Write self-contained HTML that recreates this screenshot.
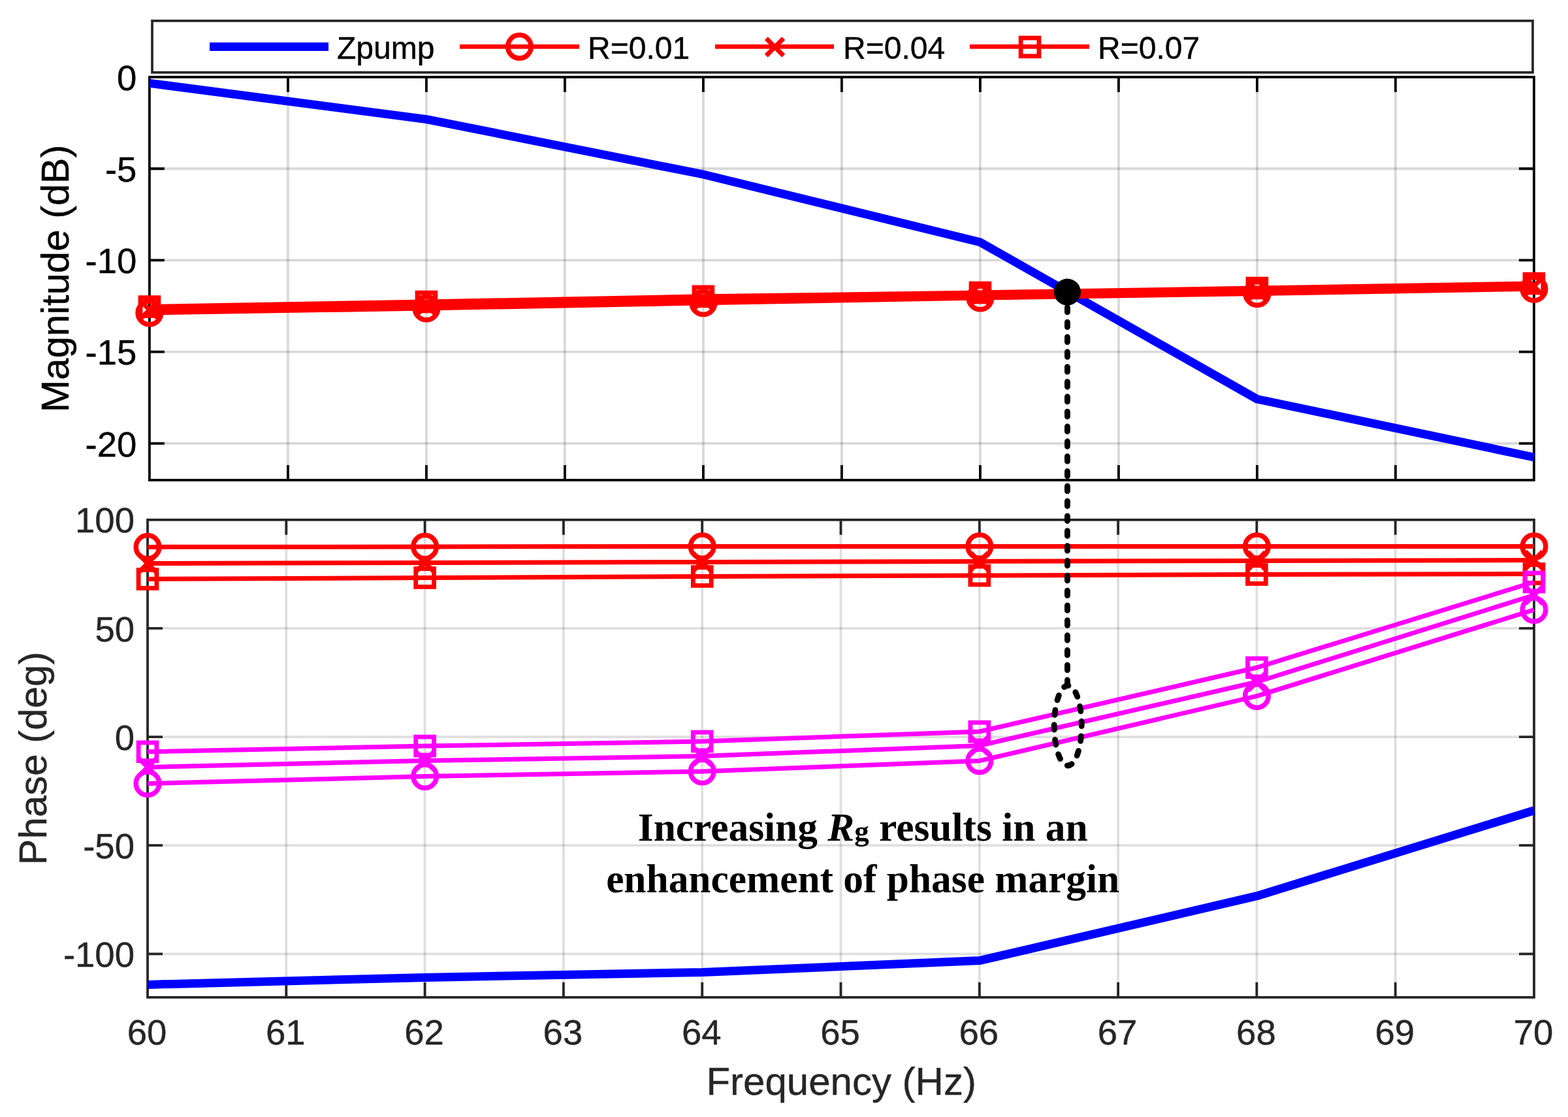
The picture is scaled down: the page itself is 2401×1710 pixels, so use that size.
<!DOCTYPE html>
<html><head><meta charset="utf-8"><title>Bode plot</title>
<style>html,body{margin:0;padding:0;background:#fff;}svg{display:block;}</style>
</head><body>
<svg width="2401" height="1710" viewBox="0 0 2401 1710">
<rect x="0" y="0" width="2401" height="1710" fill="#ffffff"/>
<line x1="440.9" y1="118" x2="440.9" y2="735" stroke="rgba(0,0,0,0.15)" stroke-width="3.8"/>
<line x1="652.9" y1="118" x2="652.9" y2="735" stroke="rgba(0,0,0,0.15)" stroke-width="3.8"/>
<line x1="864.9" y1="118" x2="864.9" y2="735" stroke="rgba(0,0,0,0.15)" stroke-width="3.8"/>
<line x1="1076.9" y1="118" x2="1076.9" y2="735" stroke="rgba(0,0,0,0.15)" stroke-width="3.8"/>
<line x1="1288.9" y1="118" x2="1288.9" y2="735" stroke="rgba(0,0,0,0.15)" stroke-width="3.8"/>
<line x1="1500.9" y1="118" x2="1500.9" y2="735" stroke="rgba(0,0,0,0.15)" stroke-width="3.8"/>
<line x1="1712.9" y1="118" x2="1712.9" y2="735" stroke="rgba(0,0,0,0.15)" stroke-width="3.8"/>
<line x1="1924.9" y1="118" x2="1924.9" y2="735" stroke="rgba(0,0,0,0.15)" stroke-width="3.8"/>
<line x1="2136.9" y1="118" x2="2136.9" y2="735" stroke="rgba(0,0,0,0.15)" stroke-width="3.8"/>
<line x1="228.9" y1="258.23" x2="2348.9" y2="258.23" stroke="rgba(0,0,0,0.15)" stroke-width="3.8"/>
<line x1="228.9" y1="398.45" x2="2348.9" y2="398.45" stroke="rgba(0,0,0,0.15)" stroke-width="3.8"/>
<line x1="228.9" y1="538.68" x2="2348.9" y2="538.68" stroke="rgba(0,0,0,0.15)" stroke-width="3.8"/>
<line x1="228.9" y1="678.91" x2="2348.9" y2="678.91" stroke="rgba(0,0,0,0.15)" stroke-width="3.8"/>
<path d="M440.9 735V712M440.9 118V141M652.9 735V712M652.9 118V141M864.9 735V712M864.9 118V141M1076.9 735V712M1076.9 118V141M1288.9 735V712M1288.9 118V141M1500.9 735V712M1500.9 118V141M1712.9 735V712M1712.9 118V141M1924.9 735V712M1924.9 118V141M2136.9 735V712M2136.9 118V141M228.9 258.23H251.9M2348.9 258.23H2325.9M228.9 398.45H251.9M2348.9 398.45H2325.9M228.9 538.68H251.9M2348.9 538.68H2325.9M228.9 678.91H251.9M2348.9 678.91H2325.9" stroke="#000000" stroke-width="3.8" fill="none"/>
<rect x="228.9" y="118" width="2120" height="617" fill="none" stroke="#000000" stroke-width="3.8"/>
<polyline points="228.9,127.4 652.9,182.6 1076.9,267 1500.9,370.8 1924.9,611 2348.9,700" fill="none" stroke="#0000ff" stroke-width="13" stroke-linejoin="round" stroke-linecap="butt"/>
<polyline points="228.9,479 652.9,472 1076.9,463.8 1500.9,456 1924.9,449.5 2348.9,442.3" fill="none" stroke="#ff0000" stroke-width="7" stroke-linejoin="round" stroke-linecap="butt"/>
<circle cx="228.9" cy="479" r="17.8" fill="none" stroke="#ff0000" stroke-width="7.5"/>
<circle cx="652.9" cy="472" r="17.8" fill="none" stroke="#ff0000" stroke-width="7.5"/>
<circle cx="1076.9" cy="463.8" r="17.8" fill="none" stroke="#ff0000" stroke-width="7.5"/>
<circle cx="1500.9" cy="456" r="17.8" fill="none" stroke="#ff0000" stroke-width="7.5"/>
<circle cx="1924.9" cy="449.5" r="17.8" fill="none" stroke="#ff0000" stroke-width="7.5"/>
<circle cx="2348.9" cy="442.3" r="17.8" fill="none" stroke="#ff0000" stroke-width="7.5"/>
<polyline points="228.9,474.25 652.9,467 1076.9,458.8 1500.9,452 1924.9,445.25 2348.9,438.15" fill="none" stroke="#ff0000" stroke-width="7" stroke-linejoin="round" stroke-linecap="butt"/>
<path d="M215.7 461.05L242.1 487.45M215.7 487.45L242.1 461.05" stroke="#ff0000" stroke-width="7" fill="none"/>
<path d="M639.7 453.8L666.1 480.2M639.7 480.2L666.1 453.8" stroke="#ff0000" stroke-width="7" fill="none"/>
<path d="M1063.7 445.6L1090.1 472M1063.7 472L1090.1 445.6" stroke="#ff0000" stroke-width="7" fill="none"/>
<path d="M1487.7 438.8L1514.1 465.2M1487.7 465.2L1514.1 438.8" stroke="#ff0000" stroke-width="7" fill="none"/>
<path d="M1911.7 432.05L1938.1 458.45M1911.7 458.45L1938.1 432.05" stroke="#ff0000" stroke-width="7" fill="none"/>
<path d="M2335.7 424.95L2362.1 451.35M2335.7 451.35L2362.1 424.95" stroke="#ff0000" stroke-width="7" fill="none"/>
<polyline points="228.9,469.5 652.9,462 1076.9,453.8 1500.9,448 1924.9,441 2348.9,434" fill="none" stroke="#ff0000" stroke-width="7" stroke-linejoin="round" stroke-linecap="butt"/>
<rect x="215" y="455.6" width="27.8" height="27.8" fill="none" stroke="#ff0000" stroke-width="6.8"/>
<rect x="639" y="448.1" width="27.8" height="27.8" fill="none" stroke="#ff0000" stroke-width="6.8"/>
<rect x="1063" y="439.9" width="27.8" height="27.8" fill="none" stroke="#ff0000" stroke-width="6.8"/>
<rect x="1487" y="434.1" width="27.8" height="27.8" fill="none" stroke="#ff0000" stroke-width="6.8"/>
<rect x="1911" y="427.1" width="27.8" height="27.8" fill="none" stroke="#ff0000" stroke-width="6.8"/>
<rect x="2335" y="420.1" width="27.8" height="27.8" fill="none" stroke="#ff0000" stroke-width="6.8"/>
<text x="209.4" y="137.6" font-size="54.5" fill="#000000" stroke="#000000" stroke-width="0.4" text-anchor="end" font-family='"Liberation Sans", Arial, Helvetica, sans-serif'>0</text>
<text x="209.4" y="277.83" font-size="54.5" fill="#000000" stroke="#000000" stroke-width="0.4" text-anchor="end" font-family='"Liberation Sans", Arial, Helvetica, sans-serif'>-5</text>
<text x="209.4" y="418.05" font-size="54.5" fill="#000000" stroke="#000000" stroke-width="0.4" text-anchor="end" font-family='"Liberation Sans", Arial, Helvetica, sans-serif'>-10</text>
<text x="209.4" y="558.28" font-size="54.5" fill="#000000" stroke="#000000" stroke-width="0.4" text-anchor="end" font-family='"Liberation Sans", Arial, Helvetica, sans-serif'>-15</text>
<text x="209.4" y="698.51" font-size="54.5" fill="#000000" stroke="#000000" stroke-width="0.4" text-anchor="end" font-family='"Liberation Sans", Arial, Helvetica, sans-serif'>-20</text>
<text transform="translate(105 426.5) rotate(-90)" x="0" y="0" font-size="60" fill="#000000" stroke="#000000" stroke-width="0.4" text-anchor="middle" font-family='"Liberation Sans", Arial, Helvetica, sans-serif'>Magnitude (dB)</text>
<line x1="438.3" y1="795.8" x2="438.3" y2="1526.8" stroke="rgba(38,38,38,0.15)" stroke-width="3.8"/>
<line x1="650.6" y1="795.8" x2="650.6" y2="1526.8" stroke="rgba(38,38,38,0.15)" stroke-width="3.8"/>
<line x1="862.9" y1="795.8" x2="862.9" y2="1526.8" stroke="rgba(38,38,38,0.15)" stroke-width="3.8"/>
<line x1="1075.2" y1="795.8" x2="1075.2" y2="1526.8" stroke="rgba(38,38,38,0.15)" stroke-width="3.8"/>
<line x1="1287.5" y1="795.8" x2="1287.5" y2="1526.8" stroke="rgba(38,38,38,0.15)" stroke-width="3.8"/>
<line x1="1499.8" y1="795.8" x2="1499.8" y2="1526.8" stroke="rgba(38,38,38,0.15)" stroke-width="3.8"/>
<line x1="1712.1" y1="795.8" x2="1712.1" y2="1526.8" stroke="rgba(38,38,38,0.15)" stroke-width="3.8"/>
<line x1="1924.4" y1="795.8" x2="1924.4" y2="1526.8" stroke="rgba(38,38,38,0.15)" stroke-width="3.8"/>
<line x1="2136.7" y1="795.8" x2="2136.7" y2="1526.8" stroke="rgba(38,38,38,0.15)" stroke-width="3.8"/>
<line x1="226" y1="961.94" x2="2349" y2="961.94" stroke="rgba(38,38,38,0.15)" stroke-width="3.8"/>
<line x1="226" y1="1128.07" x2="2349" y2="1128.07" stroke="rgba(38,38,38,0.15)" stroke-width="3.8"/>
<line x1="226" y1="1294.21" x2="2349" y2="1294.21" stroke="rgba(38,38,38,0.15)" stroke-width="3.8"/>
<line x1="226" y1="1460.35" x2="2349" y2="1460.35" stroke="rgba(38,38,38,0.15)" stroke-width="3.8"/>
<path d="M438.3 1526.8V1503.8M438.3 795.8V818.8M650.6 1526.8V1503.8M650.6 795.8V818.8M862.9 1526.8V1503.8M862.9 795.8V818.8M1075.2 1526.8V1503.8M1075.2 795.8V818.8M1287.5 1526.8V1503.8M1287.5 795.8V818.8M1499.8 1526.8V1503.8M1499.8 795.8V818.8M1712.1 1526.8V1503.8M1712.1 795.8V818.8M1924.4 1526.8V1503.8M1924.4 795.8V818.8M2136.7 1526.8V1503.8M2136.7 795.8V818.8M226 961.94H249M2349 961.94H2326M226 1128.07H249M2349 1128.07H2326M226 1294.21H249M2349 1294.21H2326M226 1460.35H249M2349 1460.35H2326" stroke="#262626" stroke-width="3.8" fill="none"/>
<rect x="226" y="795.8" width="2123" height="731" fill="none" stroke="#262626" stroke-width="3.8"/>
<polyline points="226,1507.4 650.6,1496.4 1075.2,1488.4 1499.8,1470.6 1924.4,1371.7 2349,1240.7" fill="none" stroke="#0000ff" stroke-width="13" stroke-linejoin="round" stroke-linecap="butt"/>
<polyline points="226,837.4 650.6,837 1075.2,836.5 1499.8,836.5 1924.4,836.5 2349,836.5" fill="none" stroke="#ff0000" stroke-width="7" stroke-linejoin="round" stroke-linecap="butt"/>
<circle cx="226" cy="837.4" r="17.8" fill="none" stroke="#ff0000" stroke-width="7.5"/>
<circle cx="650.6" cy="837" r="17.8" fill="none" stroke="#ff0000" stroke-width="7.5"/>
<circle cx="1075.2" cy="836.5" r="17.8" fill="none" stroke="#ff0000" stroke-width="7.5"/>
<circle cx="1499.8" cy="836.5" r="17.8" fill="none" stroke="#ff0000" stroke-width="7.5"/>
<circle cx="1924.4" cy="836.5" r="17.8" fill="none" stroke="#ff0000" stroke-width="7.5"/>
<circle cx="2349" cy="836.5" r="17.8" fill="none" stroke="#ff0000" stroke-width="7.5"/>
<polyline points="226,862.5 650.6,861.4 1075.2,860.4 1499.8,859.4 1924.4,858.5 2349,857.5" fill="none" stroke="#ff0000" stroke-width="7" stroke-linejoin="round" stroke-linecap="butt"/>
<path d="M212.8 849.3L239.2 875.7M212.8 875.7L239.2 849.3" stroke="#ff0000" stroke-width="7" fill="none"/>
<path d="M637.4 848.2L663.8 874.6M637.4 874.6L663.8 848.2" stroke="#ff0000" stroke-width="7" fill="none"/>
<path d="M1062 847.2L1088.4 873.6M1062 873.6L1088.4 847.2" stroke="#ff0000" stroke-width="7" fill="none"/>
<path d="M1486.6 846.2L1513 872.6M1486.6 872.6L1513 846.2" stroke="#ff0000" stroke-width="7" fill="none"/>
<path d="M1911.2 845.3L1937.6 871.7M1911.2 871.7L1937.6 845.3" stroke="#ff0000" stroke-width="7" fill="none"/>
<path d="M2335.8 844.3L2362.2 870.7M2335.8 870.7L2362.2 844.3" stroke="#ff0000" stroke-width="7" fill="none"/>
<polyline points="226,886.5 650.6,884.5 1075.2,882.5 1499.8,881 1924.4,879.5 2349,878.5" fill="none" stroke="#ff0000" stroke-width="7" stroke-linejoin="round" stroke-linecap="butt"/>
<rect x="212.1" y="872.6" width="27.8" height="27.8" fill="none" stroke="#ff0000" stroke-width="6.8"/>
<rect x="636.7" y="870.6" width="27.8" height="27.8" fill="none" stroke="#ff0000" stroke-width="6.8"/>
<rect x="1061.3" y="868.6" width="27.8" height="27.8" fill="none" stroke="#ff0000" stroke-width="6.8"/>
<rect x="1485.9" y="867.1" width="27.8" height="27.8" fill="none" stroke="#ff0000" stroke-width="6.8"/>
<rect x="1910.5" y="865.6" width="27.8" height="27.8" fill="none" stroke="#ff0000" stroke-width="6.8"/>
<rect x="2335.1" y="864.6" width="27.8" height="27.8" fill="none" stroke="#ff0000" stroke-width="6.8"/>
<polyline points="226,1199.5 650.6,1188.5 1075.2,1181 1499.8,1164.7 1924.4,1065.6 2349,933.5" fill="none" stroke="#ff00ff" stroke-width="7" stroke-linejoin="round" stroke-linecap="butt"/>
<circle cx="226" cy="1199.5" r="17.8" fill="none" stroke="#ff00ff" stroke-width="7.5"/>
<circle cx="650.6" cy="1188.5" r="17.8" fill="none" stroke="#ff00ff" stroke-width="7.5"/>
<circle cx="1075.2" cy="1181" r="17.8" fill="none" stroke="#ff00ff" stroke-width="7.5"/>
<circle cx="1499.8" cy="1164.7" r="17.8" fill="none" stroke="#ff00ff" stroke-width="7.5"/>
<circle cx="1924.4" cy="1065.6" r="17.8" fill="none" stroke="#ff00ff" stroke-width="7.5"/>
<circle cx="2349" cy="933.5" r="17.8" fill="none" stroke="#ff00ff" stroke-width="7.5"/>
<polyline points="226,1174.5 650.6,1164.5 1075.2,1157.5 1499.8,1141.5 1924.4,1044 2349,911" fill="none" stroke="#ff00ff" stroke-width="7" stroke-linejoin="round" stroke-linecap="butt"/>
<path d="M212.8 1161.3L239.2 1187.7M212.8 1187.7L239.2 1161.3" stroke="#ff00ff" stroke-width="7" fill="none"/>
<path d="M637.4 1151.3L663.8 1177.7M637.4 1177.7L663.8 1151.3" stroke="#ff00ff" stroke-width="7" fill="none"/>
<path d="M1062 1144.3L1088.4 1170.7M1062 1170.7L1088.4 1144.3" stroke="#ff00ff" stroke-width="7" fill="none"/>
<path d="M1486.6 1128.3L1513 1154.7M1486.6 1154.7L1513 1128.3" stroke="#ff00ff" stroke-width="7" fill="none"/>
<path d="M1911.2 1030.8L1937.6 1057.2M1911.2 1057.2L1937.6 1030.8" stroke="#ff00ff" stroke-width="7" fill="none"/>
<path d="M2335.8 897.8L2362.2 924.2M2335.8 924.2L2362.2 897.8" stroke="#ff00ff" stroke-width="7" fill="none"/>
<polyline points="226,1150.8 650.6,1142 1075.2,1135 1499.8,1120 1924.4,1022 2349,891" fill="none" stroke="#ff00ff" stroke-width="7" stroke-linejoin="round" stroke-linecap="butt"/>
<rect x="212.1" y="1136.9" width="27.8" height="27.8" fill="none" stroke="#ff00ff" stroke-width="6.8"/>
<rect x="636.7" y="1128.1" width="27.8" height="27.8" fill="none" stroke="#ff00ff" stroke-width="6.8"/>
<rect x="1061.3" y="1121.1" width="27.8" height="27.8" fill="none" stroke="#ff00ff" stroke-width="6.8"/>
<rect x="1485.9" y="1106.1" width="27.8" height="27.8" fill="none" stroke="#ff00ff" stroke-width="6.8"/>
<rect x="1910.5" y="1008.1" width="27.8" height="27.8" fill="none" stroke="#ff00ff" stroke-width="6.8"/>
<rect x="2335.1" y="877.1" width="27.8" height="27.8" fill="none" stroke="#ff00ff" stroke-width="6.8"/>
<text x="206" y="815.4" font-size="54.5" fill="#262626" stroke="#262626" stroke-width="0.4" text-anchor="end" font-family='"Liberation Sans", Arial, Helvetica, sans-serif'>100</text>
<text x="206" y="981.54" font-size="54.5" fill="#262626" stroke="#262626" stroke-width="0.4" text-anchor="end" font-family='"Liberation Sans", Arial, Helvetica, sans-serif'>50</text>
<text x="206" y="1147.67" font-size="54.5" fill="#262626" stroke="#262626" stroke-width="0.4" text-anchor="end" font-family='"Liberation Sans", Arial, Helvetica, sans-serif'>0</text>
<text x="206" y="1313.81" font-size="54.5" fill="#262626" stroke="#262626" stroke-width="0.4" text-anchor="end" font-family='"Liberation Sans", Arial, Helvetica, sans-serif'>-50</text>
<text x="206" y="1479.95" font-size="54.5" fill="#262626" stroke="#262626" stroke-width="0.4" text-anchor="end" font-family='"Liberation Sans", Arial, Helvetica, sans-serif'>-100</text>
<text x="225" y="1599" font-size="54.5" fill="#262626" stroke="#262626" stroke-width="0.4" text-anchor="middle" font-family='"Liberation Sans", Arial, Helvetica, sans-serif'>60</text>
<text x="437.3" y="1599" font-size="54.5" fill="#262626" stroke="#262626" stroke-width="0.4" text-anchor="middle" font-family='"Liberation Sans", Arial, Helvetica, sans-serif'>61</text>
<text x="649.6" y="1599" font-size="54.5" fill="#262626" stroke="#262626" stroke-width="0.4" text-anchor="middle" font-family='"Liberation Sans", Arial, Helvetica, sans-serif'>62</text>
<text x="861.9" y="1599" font-size="54.5" fill="#262626" stroke="#262626" stroke-width="0.4" text-anchor="middle" font-family='"Liberation Sans", Arial, Helvetica, sans-serif'>63</text>
<text x="1074.2" y="1599" font-size="54.5" fill="#262626" stroke="#262626" stroke-width="0.4" text-anchor="middle" font-family='"Liberation Sans", Arial, Helvetica, sans-serif'>64</text>
<text x="1286.5" y="1599" font-size="54.5" fill="#262626" stroke="#262626" stroke-width="0.4" text-anchor="middle" font-family='"Liberation Sans", Arial, Helvetica, sans-serif'>65</text>
<text x="1498.8" y="1599" font-size="54.5" fill="#262626" stroke="#262626" stroke-width="0.4" text-anchor="middle" font-family='"Liberation Sans", Arial, Helvetica, sans-serif'>66</text>
<text x="1711.1" y="1599" font-size="54.5" fill="#262626" stroke="#262626" stroke-width="0.4" text-anchor="middle" font-family='"Liberation Sans", Arial, Helvetica, sans-serif'>67</text>
<text x="1923.4" y="1599" font-size="54.5" fill="#262626" stroke="#262626" stroke-width="0.4" text-anchor="middle" font-family='"Liberation Sans", Arial, Helvetica, sans-serif'>68</text>
<text x="2135.7" y="1599" font-size="54.5" fill="#262626" stroke="#262626" stroke-width="0.4" text-anchor="middle" font-family='"Liberation Sans", Arial, Helvetica, sans-serif'>69</text>
<text x="2348" y="1599" font-size="54.5" fill="#262626" stroke="#262626" stroke-width="0.4" text-anchor="middle" font-family='"Liberation Sans", Arial, Helvetica, sans-serif'>70</text>
<text transform="translate(71 1161) rotate(-90)" x="0" y="0" font-size="60" fill="#262626" stroke="#262626" stroke-width="0.4" text-anchor="middle" font-family='"Liberation Sans", Arial, Helvetica, sans-serif'>Phase (deg)</text>
<text x="1288.2" y="1675.6" font-size="60" fill="#262626" stroke="#262626" stroke-width="0.4" text-anchor="middle" font-family='"Liberation Sans", Arial, Helvetica, sans-serif'>Frequency (Hz)</text>
<path d="M1634.4 447V1052" stroke="#000" stroke-width="8.8" stroke-linecap="round" stroke-dasharray="7.6 15.23" stroke-dashoffset="-0.44" fill="none"/>
<path d="M1635.2 1049.5A21 61.25 0 0 1 1635.2 1172A21 61.25 0 0 1 1635.2 1049.5Z" fill="none" stroke="#000" stroke-width="8.8" stroke-linecap="round" stroke-dasharray="7.6 15.24" stroke-dashoffset="6.8"/>
<circle cx="1634.4" cy="447.1" r="20.5" fill="#000"/>
<text x="1321.2" y="1287" font-size="61.4" fill="#000" text-anchor="middle" font-weight="bold" font-family='"Liberation Serif", "Times New Roman", Times, serif'>Increasing <tspan font-style="italic">R</tspan><tspan font-size="45">g</tspan> results in an</text>
<text x="1321.2" y="1366" font-size="61.4" fill="#000" text-anchor="middle" font-weight="bold" font-family='"Liberation Serif", "Times New Roman", Times, serif'>enhancement of phase margin</text>
<rect x="233" y="31.9" width="2114" height="79" fill="#fff" stroke="#262626" stroke-width="3.7"/>
<line x1="321" y1="71.5" x2="503" y2="71.5" stroke="#0000ff" stroke-width="13"/>
<text x="516" y="90" font-size="48" fill="#000" stroke="#000" stroke-width="0.4" text-anchor="start" font-family='"Liberation Sans", Arial, Helvetica, sans-serif'>Zpump</text>
<line x1="704" y1="71.4" x2="887" y2="71.4" stroke="#ff0000" stroke-width="6.7"/>
<circle cx="795.4" cy="71.4" r="17.8" fill="none" stroke="#ff0000" stroke-width="7.5"/>
<text x="900" y="90" font-size="48" fill="#000" stroke="#000" stroke-width="0.4" text-anchor="start" font-family='"Liberation Sans", Arial, Helvetica, sans-serif'>R=0.01</text>
<line x1="1095" y1="71.4" x2="1277" y2="71.4" stroke="#ff0000" stroke-width="6.7"/>
<path d="M1173.3 58.8L1199.7 85.2M1173.3 85.2L1199.7 58.8" stroke="#ff0000" stroke-width="7" fill="none"/>
<text x="1291" y="90" font-size="48" fill="#000" stroke="#000" stroke-width="0.4" text-anchor="start" font-family='"Liberation Sans", Arial, Helvetica, sans-serif'>R=0.04</text>
<line x1="1485" y1="71.4" x2="1668" y2="71.4" stroke="#ff0000" stroke-width="6.7"/>
<rect x="1563.1" y="58.1" width="27.8" height="27.8" fill="none" stroke="#ff0000" stroke-width="6.8"/>
<text x="1681" y="90" font-size="48" fill="#000" stroke="#000" stroke-width="0.4" text-anchor="start" font-family='"Liberation Sans", Arial, Helvetica, sans-serif'>R=0.07</text>
</svg>
</body></html>
